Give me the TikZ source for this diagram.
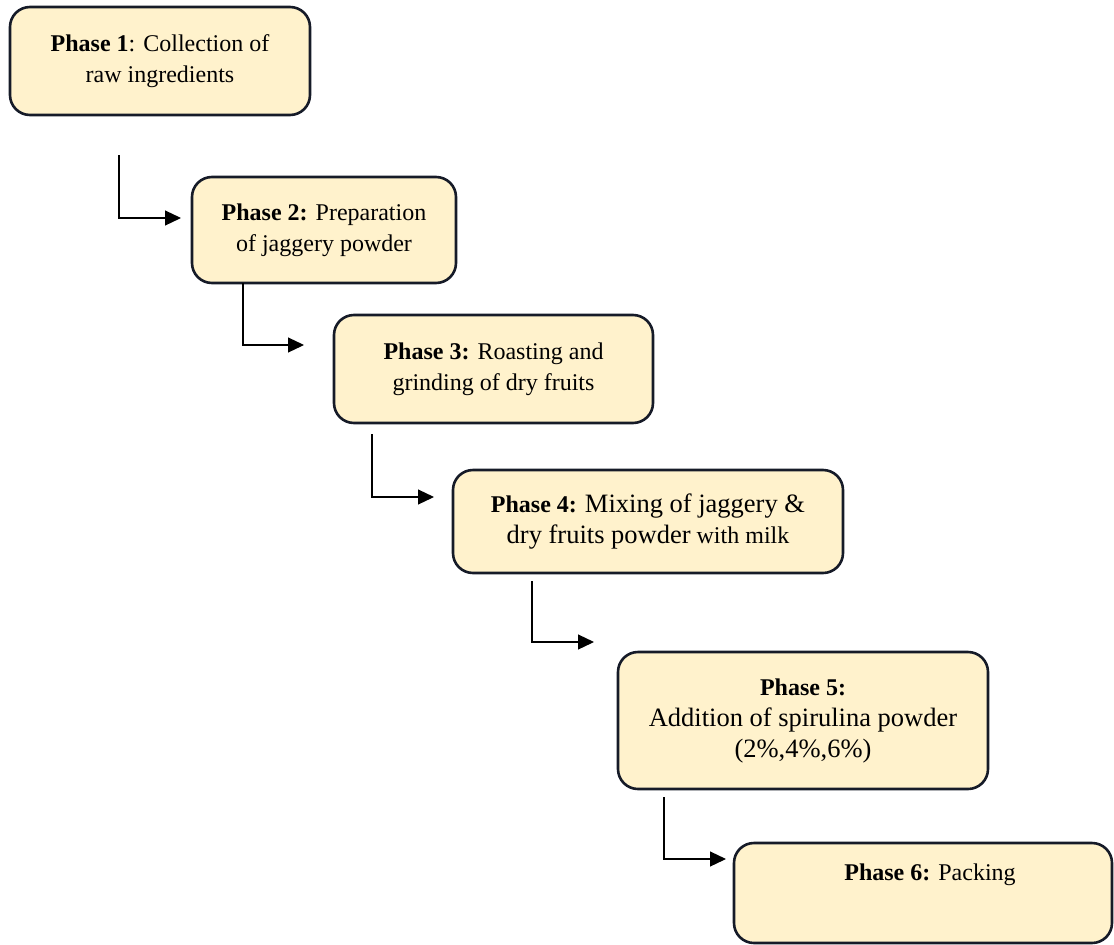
\documentclass[tikz,border=0pt]{standalone}
\usepackage{xcolor}
\usepackage{fontspec}
\setmainfont{Liberation Serif}
\usepackage{tikz}
\usetikzlibrary{arrows.meta}
\definecolor{phasefill}{RGB}{255, 242, 204}
\definecolor{phaseedge}{RGB}{22, 27, 40}

\newcommand{\bigtxt}{\fontsize{26.5}{31}\selectfont}

\begin{document}
\begin{tikzpicture}[x=1pt, y=-1pt,
    phasebox/.style={rectangle, rounded corners=20pt, draw=phaseedge, line width=2.6pt,
                     fill=phasefill, align=center, inner sep=0pt,
                     font=\fontsize{24}{31}\selectfont},
    phasetext/.style={align=center, inner sep=0pt, font=\fontsize{24}{31}\selectfont},
    flow/.style={draw=black, line width=1.2pt, -{Triangle[length=16pt, width=15pt]}}]
  \useasboundingbox (0,0) rectangle (1114,945);

  \node[phasebox, minimum width=300pt, minimum height=108pt] (phase1) at (160,61)
    {\textbf{Phase 1}: Collection of\\raw ingredients};
  \node[phasebox, minimum width=264pt, minimum height=106pt] (phase2) at (324,230)
    {\textbf{Phase 2:} Preparation\\of jaggery powder};
  \node[phasebox, minimum width=319pt, minimum height=108pt] (phase3) at (493.5,369)
    {\textbf{Phase 3:} Roasting and\\grinding of dry fruits};
  \node[phasebox, minimum width=390pt, minimum height=103pt] (phase4) at (648,521.5)
    {\textbf{Phase 4:} {\bigtxt Mixing of jaggery \&}\\{\bigtxt dry fruits powder} with milk};
  \node[phasebox, minimum width=370pt, minimum height=137pt] (phase5) at (803,720.5)
    {\textbf{Phase 5:}\\{\bigtxt Addition of spirulina powder}\\{\bigtxt (2\%,4\%,6\%)}};
  \node[phasebox, minimum width=378pt, minimum height=100pt] (phase6) at (923,893) {};
  \node[phasetext] (phase6txt) at (930,875) {\textbf{Phase 6:} Packing};

  \coordinate (f1a) at (119,155);
  \coordinate (f1b) at (181,218);
  \coordinate (f2a) at (243,283);
  \coordinate (f2b) at (304,345);
  \coordinate (f3a) at (372,434);
  \coordinate (f3b) at (434,497);
  \coordinate (f4a) at (532,581);
  \coordinate (f4b) at (594,642);
  \coordinate (f5a) at (664,797);
  \coordinate (f5b) at (726,859);

  \draw[flow] (f1a) |- (f1b);
  \draw[flow] (f2a) |- (f2b);
  \draw[flow] (f3a) |- (f3b);
  \draw[flow] (f4a) |- (f4b);
  \draw[flow] (f5a) |- (f5b);
\end{tikzpicture}
\end{document}
